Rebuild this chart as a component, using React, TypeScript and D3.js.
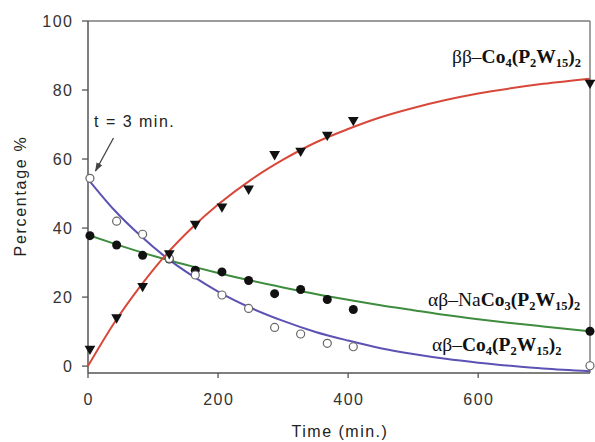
import React from "react";
import * as d3 from "d3";

// Sampling times (min.) of the measurements
const times = [3, 44, 84, 125, 165, 206, 247, 287, 327, 368, 408, 772];
// ββ–Co4(P2W15)2 (filled down-triangles)
const bbCo4 = [5, 14.1, 23.2, 32.7, 41.2, 46.2, 51.4, 61.4, 62.4, 67, 71.3, 82.1];
// αβ–Co4(P2W15)2 (open circles)
const abCo4 = [54.4, 42, 38.2, 31.2, 26.4, 20.6, 16.7, 11.2, 9.3, 6.6, 5.6, 0.1];
// αβ–NaCo3(P2W15)2 (filled circles)
const abNaCo3 = [37.8, 35.1, 32.1, 31.0, 27.8, 27.3, 24.8, 21.0, 22.2, 19.3, 16.4, 10.1];

// Fitted curves, sampled along the time axis
const fitTimes = [0, 40, 80, 120, 160, 200, 250, 300, 350, 400, 450, 500, 550, 600, 650, 700, 772];
const fitBB = [0, 12.4, 23.0, 32.3, 40.1, 46.8, 53.9, 59.8, 64.8, 68.7, 72.1, 74.8, 77.1, 79.0, 80.5, 81.8, 83.3];
const fitAB = [54.2, 45.3, 37.9, 31.5, 26.2, 21.6, 16.9, 13.1, 9.9, 7.4, 5.2, 3.5, 2.1, 1.0, 0.1, -0.7, -1.5];
const fitNa = [38, 35.5, 33.1, 30.9, 28.9, 27.0, 24.8, 22.8, 20.9, 19.2, 17.6, 16.2, 14.8, 13.6, 12.5, 11.5, 10.1];

const xTicks = [0, 200, 400, 600];
const yTicks = [0, 20, 40, 60, 80, 100];

type Part = { t: string; sub?: boolean; bold?: boolean };

const labelBB: Part[] = [
  { t: "ββ–" },
  { t: "Co", bold: true },
  { t: "4", sub: true, bold: true },
  { t: "(P", bold: true },
  { t: "2", sub: true, bold: true },
  { t: "W", bold: true },
  { t: "15", sub: true, bold: true },
  { t: ")", bold: true },
  { t: "2", sub: true, bold: true },
];
const labelNa: Part[] = [
  { t: "αβ–Na" },
  { t: "Co", bold: true },
  { t: "3", sub: true, bold: true },
  { t: "(P", bold: true },
  { t: "2", sub: true, bold: true },
  { t: "W", bold: true },
  { t: "15", sub: true, bold: true },
  { t: ")", bold: true },
  { t: "2", sub: true, bold: true },
];
const labelAB: Part[] = [
  { t: "αβ–" },
  { t: "Co", bold: true },
  { t: "4", sub: true, bold: true },
  { t: "(P", bold: true },
  { t: "2", sub: true, bold: true },
  { t: "W", bold: true },
  { t: "15", sub: true, bold: true },
  { t: ")", bold: true },
  { t: "2", sub: true, bold: true },
];

const W = 595;
const H = 442;
const left = 88;
const right = 590;
const top = 21;
const bottom = 373;

const RED = "#d8483a";
const GREEN = "#3e8c3e";
const BLUE = "#5b52b4";
const SANS = "Arial, 'Liberation Sans', sans-serif";
const SERIF = "'Times New Roman', 'Liberation Serif', serif";

function Formula({ parts, x, y }: { parts: Part[]; x: number; y: number }) {
  let shifted = false;
  return (
    <text x={x} y={y} fontFamily={SERIF} fontSize={19.5} fill="#111">
      {parts.map((p, i) => {
        let dy = 0;
        if (p.sub && !shifted) {
          dy = 4;
          shifted = true;
        } else if (!p.sub && shifted) {
          dy = -4;
          shifted = false;
        }
        return (
          <tspan
            key={i}
            dy={dy}
            fontSize={p.sub ? 12.5 : 19.5}
            fontWeight={p.bold ? "bold" : "normal"}
          >
            {p.t}
          </tspan>
        );
      })}
    </text>
  );
}

export default function App() {
  const x = d3.scaleLinear().domain([0, 772]).range([left, right]);
  const y = d3.scaleLinear().domain([-2, 100]).range([bottom, top]);

  const line = d3
    .line<[number, number]>()
    .x((d) => x(d[0]))
    .y((d) => y(d[1]))
    .curve(d3.curveMonotoneX);

  const fit = (vals: number[]) => line(fitTimes.map((t, i) => [t, vals[i]]) as [number, number][]) || "";

  const tri = d3.symbol().type(d3.symbolTriangle).size(50)() || "";

  return (
    <div style={{ position: "absolute", left: 0, top: 0 }}>
      <svg width={W} height={H} style={{ display: "block", background: "#fff" }}>
        <defs>
          <marker id="ah" viewBox="0 0 10 10" refX="9" refY="5" markerWidth="7" markerHeight="7" orient="auto">
            <path d="M0,1.5 L10,5 L0,8.5 z" fill="#444" />
          </marker>
        </defs>

        {/* frame */}
        <line x1={left} x2={right} y1={top} y2={top} stroke="#7a7a7a" strokeWidth={1.4} />
        <line x1={right} x2={right} y1={top} y2={bottom} stroke="#7a7a7a" strokeWidth={1.4} />
        <line x1={left} x2={right} y1={bottom} y2={bottom} stroke="#555" strokeWidth={1.5} />
        <line x1={left} x2={left} y1={top} y2={bottom} stroke="#555" strokeWidth={1.5} />

        {/* y axis ticks */}
        {yTicks.map((v) => (
          <g key={"y" + v}>
            <line x1={left - 6} x2={left} y1={y(v)} y2={y(v)} stroke="#555" strokeWidth={1.3} />
            <text
              x={73.5}
              y={y(v) + 5.5}
              textAnchor="end"
              fontFamily={SANS}
              fontSize={16}
              letterSpacing={1.5}
              fill="#333"
            >
              {v}
            </text>
          </g>
        ))}
        {/* x axis ticks */}
        {xTicks.map((v) => (
          <g key={"x" + v}>
            <line x1={x(v)} x2={x(v)} y1={bottom} y2={bottom + 5} stroke="#555" strokeWidth={1.3} />
            <text
              x={x(v) + 0.75}
              y={405}
              textAnchor="middle"
              fontFamily={SANS}
              fontSize={16}
              letterSpacing={1.5}
              fill="#333"
            >
              {v}
            </text>
          </g>
        ))}

        <text
          x={340}
          y={437}
          textAnchor="middle"
          fontFamily={SANS}
          fontSize={16}
          letterSpacing={1.5}
          fill="#222"
        >
          Time (min.)
        </text>
        <text
          transform="translate(26,196) rotate(-90)"
          textAnchor="middle"
          fontFamily={SANS}
          fontSize={16}
          letterSpacing={1.7}
          fill="#222"
        >
          Percentage %
        </text>

        {/* fitted curves */}
        <path d={fit(fitNa)} fill="none" stroke={GREEN} strokeWidth={2} />
        <path d={fit(fitAB)} fill="none" stroke={BLUE} strokeWidth={2} />
        <path d={fit(fitBB)} fill="none" stroke={RED} strokeWidth={2} />

        {/* measured points */}
        {times.map((t, i) => (
          <circle key={"n" + i} cx={x(t)} cy={y(abNaCo3[i])} r={4.5} fill="#111" />
        ))}
        {times.map((t, i) => (
          <circle
            key={"a" + i}
            cx={x(t)}
            cy={y(abCo4[i])}
            r={4}
            fill="#fff"
            stroke="#666"
            strokeWidth={1.2}
          />
        ))}
        {times.map((t, i) => (
          <path
            key={"b" + i}
            d={tri}
            transform={`translate(${x(t)},${y(bbCo4[i])}) rotate(180)`}
            fill="#111"
          />
        ))}

        {/* annotation */}
        <text x={94} y={127} fontFamily={SANS} fontSize={16} fill="#222" letterSpacing={1.5}>
          t = 3 min.
        </text>
        <line x1={113.5} y1={138} x2={95.5} y2={171} stroke="#444" strokeWidth={1.3} markerEnd="url(#ah)" />

        {/* series labels */}
        <Formula parts={labelBB} x={452} y={63} />
        <Formula parts={labelNa} x={428} y={306} />
        <Formula parts={labelAB} x={432} y={351} />
      </svg>
    </div>
  );
}
